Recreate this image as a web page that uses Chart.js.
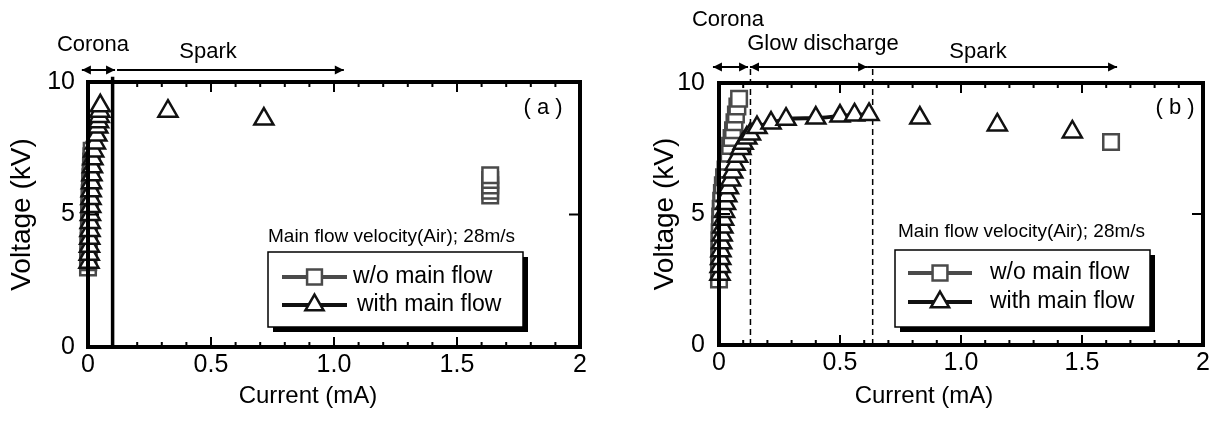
<!DOCTYPE html>
<html>
<head>
<meta charset="utf-8">
<script src="https://cdn.jsdelivr.net/npm/chart.js@4.4.0/dist/chart.umd.min.js"></script>
<style>
  html, body { margin: 0; padding: 0; background: #fff; }
  #wrap { position: relative; width: 1219px; height: 428px; overflow: hidden; }
  canvas { position: absolute; top: 0; }
</style>
</head>
<body>
<div id="wrap">
  <canvas id="chartA" width="609" height="428" style="left:0"></canvas>
  <canvas id="chartB" width="610" height="428" style="left:609px"></canvas>
</div>
<script>
// ---- data ----
const xTickValues = [0, 0.5, 1, 1.5, 2];
const xTickLabels = ['0', '0.5', '1.0', '1.5', '2'];
const yTickValues = [0, 5, 10];
const yTickLabels = ['0', '5', '10'];
const seriesNames = ['w/o main flow', 'with main flow'];

// (a) w/o main flow
const aWoCur  = [0.000, 0.001, 0.001, 0.002, 0.002, 0.003, 0.003, 0.004, 0.004, 0.005, 0.005, 0.006, 0.006, 0.007, 0.007, 0.008, 0.009, 0.010, 0.011, 0.012, 0.013, 0.014, 0.015];
const aWoVolt = [3.0, 3.2, 3.4, 3.6, 3.8, 4.0, 4.2, 4.4, 4.6, 4.8, 5.0, 5.2, 5.4, 5.6, 5.8, 6.0, 6.2, 6.4, 6.6, 6.8, 7.0, 7.2, 7.4];
const aWoSparkCur  = [1.635, 1.635, 1.635, 1.635, 1.635];
const aWoSparkVolt = [5.72, 5.9, 6.1, 6.3, 6.48];
// (a) with main flow
const aWCur  = [0.004, 0.005, 0.006, 0.007, 0.008, 0.009, 0.010, 0.011, 0.012, 0.013, 0.014, 0.016, 0.018, 0.020, 0.023, 0.030, 0.036, 0.040, 0.043, 0.046, 0.048, 0.050];
const aWVolt = [3.2, 3.5, 3.8, 4.1, 4.4, 4.7, 5.0, 5.3, 5.6, 5.9, 6.2, 6.5, 6.8, 7.1, 7.4, 7.7, 8.0, 8.3, 8.5, 8.7, 8.9, 9.1];
const aWSparkCur  = [0.325, 0.715];
const aWSparkVolt = [8.9, 8.6];
const aBoundary = [0.1];
const aRegions = ['Corona', 'Spark'];

// (b) w/o main flow
const bWoCur  = [0.000, 0.000, 0.001, 0.001, 0.002, 0.002, 0.003, 0.004, 0.005, 0.007, 0.009, 0.012, 0.016, 0.021, 0.027, 0.034, 0.040, 0.046, 0.052, 0.058, 0.064, 0.070, 0.076, 0.083];
const bWoVolt = [2.5, 2.8, 3.1, 3.4, 3.7, 4.0, 4.3, 4.6, 4.9, 5.2, 5.5, 5.8, 6.1, 6.4, 6.7, 7.0, 7.3, 7.6, 7.9, 8.2, 8.5, 8.8, 9.1, 9.4];
const bWoSparkCur  = [1.62];
const bWoSparkVolt = [7.75];
// (b) with main flow
const bWCur  = [0.004, 0.005, 0.007, 0.008, 0.011, 0.013, 0.016, 0.019, 0.023, 0.027, 0.032, 0.039, 0.048, 0.057, 0.066, 0.077, 0.090, 0.100, 0.115, 0.130, 0.157, 0.215, 0.277, 0.40, 0.50, 0.56, 0.62];
const bWVolt = [2.7, 3.0, 3.3, 3.6, 3.9, 4.2, 4.5, 4.8, 5.1, 5.4, 5.7, 6.0, 6.3, 6.6, 6.9, 7.2, 7.5, 7.7, 7.9, 8.05, 8.3, 8.47, 8.62, 8.66, 8.74, 8.78, 8.8];
const bWSparkCur  = [0.83, 1.15, 1.46];
const bWSparkVolt = [8.66, 8.40, 8.13];
const bBoundary = [0.13, 0.635];
const bRegions = ['Corona', 'Glow discharge', 'Spark'];

const legendTitle = 'Main flow velocity(Air); 28m/s';

// ---- helpers ----
const FONT = "'Liberation Sans', Arial, sans-serif";
const GREY = '#4a4a4a';
Chart.defaults.font.family = FONT;
Chart.defaults.color = '#000';

function pts(xs, ys) {
  return xs.map((x, i) => ({ x: x, y: ys[i] }));
}

function squares(data, line) {
  return {
    data: data, showLine: line, borderColor: GREY, borderWidth: 4,
    pointStyle: 'rect', pointRadius: 11, pointBorderWidth: 2.5,
    pointBorderColor: GREY, pointBackgroundColor: '#fff', clip: false, order: 2
  };
}
function triangles(data, line) {
  return {
    data: data, showLine: line, borderColor: '#111', borderWidth: 4,
    cubicInterpolationMode: 'monotone',
    pointStyle: 'triangle', pointRadius: 11, pointBorderWidth: 2.5,
    pointBorderColor: '#111', pointBackgroundColor: '#fff', clip: false, order: 1
  };
}
// vertical region boundary, from 0 up to just above the frame
function boundary(x, top, dashed) {
  return {
    data: [{ x: x, y: 0 }, { x: x, y: top }], showLine: true,
    borderColor: '#000', borderWidth: dashed ? 1.5 : 3.5,
    borderDash: dashed ? [6, 4] : [], pointRadius: 0, clip: false, order: 3
  };
}

function text(ctx, str, x, y, size, align, rot) {
  ctx.save();
  ctx.font = size + 'px ' + FONT;
  ctx.fillStyle = '#000';
  ctx.textAlign = align || 'center';
  ctx.textBaseline = 'middle';
  ctx.translate(x, y);
  if (rot) ctx.rotate(rot);
  ctx.fillText(str, 0, 0);
  ctx.restore();
}

function head(ctx, x, y, dir) {
  ctx.beginPath();
  ctx.moveTo(x, y);
  ctx.lineTo(x - dir * 9, y - 4.5);
  ctx.lineTo(x - dir * 9, y + 4.5);
  ctx.closePath();
  ctx.fill();
}

function arrow(ctx, x1, x2, y, startHead) {
  ctx.beginPath();
  ctx.moveTo(x1, y);
  ctx.lineTo(x2, y);
  ctx.stroke();
  head(ctx, x2, y, 1);
  if (startHead) head(ctx, x1, y, -1);
}

function decor(p) {
  return {
    id: 'decor',
    afterDatasetsDraw(chart) {
      const { ctx, chartArea: ca, scales: { x, y } } = chart;
      ctx.save();
      ctx.strokeStyle = '#000';
      ctx.fillStyle = '#000';
      // inward ticks
      ctx.lineWidth = 2;
      ctx.beginPath();
      for (let k = 1; k < 20; k++) {
        const px = x.getPixelForValue(k / 10);
        const len = k % 5 === 0 ? 10 : 5;
        ctx.moveTo(px, ca.top); ctx.lineTo(px, ca.top + len);
        ctx.moveTo(px, ca.bottom); ctx.lineTo(px, ca.bottom - len);
      }
      const py = y.getPixelForValue(5);
      ctx.moveTo(ca.left, py); ctx.lineTo(ca.left + 11, py);
      ctx.moveTo(ca.right, py); ctx.lineTo(ca.right - 11, py);
      ctx.stroke();
      // frame
      ctx.lineWidth = 4;
      ctx.strokeRect(ca.left, ca.top, ca.right - ca.left, ca.bottom - ca.top);

      // region arrows and labels
      ctx.lineWidth = 2;
      p.regions.forEach(r => {
        arrow(ctx, x.getPixelForValue(r.from), x.getPixelForValue(r.to), p.arrowY, r.both);
        text(ctx, r.label, r.tx, r.ty, 22);
      });
      text(ctx, p.panel, p.panelX, p.panelY, 22);

      // axis titles
      text(ctx, 'Voltage (kV)', p.yTitleX, (ca.top + ca.bottom) / 2, 28, 'center', -Math.PI / 2);
      text(ctx, 'Current (mA)', p.xTitleX, p.xTitleY, 24);

      // legend
      const L = p.legend;
      text(ctx, legendTitle, L.titleX, L.titleY, 19, 'left');
      ctx.fillStyle = '#000';
      ctx.fillRect(L.x + 5, L.y + 5, L.w, L.h);
      ctx.fillStyle = '#fff';
      ctx.fillRect(L.x, L.y, L.w, L.h);
      ctx.lineWidth = 1.5;
      ctx.strokeStyle = '#000';
      ctx.strokeRect(L.x, L.y, L.w, L.h);
      const rows = [
        { name: seriesNames[0], color: GREY, style: 'rect', r: 10.5, y: L.row1, tx: L.text1 },
        { name: seriesNames[1], color: '#111', style: 'triangle', r: 10.5, y: L.row2, tx: L.text2 }
      ];
      rows.forEach(row => {
        ctx.strokeStyle = row.color;
        ctx.lineWidth = 4;
        ctx.beginPath();
        ctx.moveTo(L.lineX1, row.y); ctx.lineTo(L.lineX2, row.y);
        ctx.stroke();
        ctx.fillStyle = '#fff';
        ctx.lineWidth = 2.5;
        Chart.helpers.drawPoint(ctx, { pointStyle: row.style, radius: row.r, rotation: 0, borderWidth: 2.5 },
          (L.lineX1 + L.lineX2) / 2, row.y);
        text(ctx, row.name, row.tx, row.y, 23, 'left');
      });
      ctx.restore();
    }
  };
}

function makePanel(id, datasets, p) {
  return new Chart(document.getElementById(id), {
    type: 'scatter',
    data: { datasets: datasets },
    options: {
      responsive: false,
      animation: false,
      devicePixelRatio: 1,
      layout: { padding: p.padding },
      plugins: { legend: { display: false }, tooltip: { enabled: false } },
      scales: {
        x: {
          type: 'linear', min: 0, max: 2,
          afterBuildTicks: s => { s.ticks = xTickValues.map(v => ({ value: v })); },
          afterFit: s => { s.height = p.xAxisH; },
          grid: { display: false, drawTicks: false },
          border: { display: false },
          ticks: {
            padding: 3, maxRotation: 0, autoSkip: false,
            font: { size: 25 },
            callback: v => xTickLabels[xTickValues.indexOf(v)]
          }
        },
        y: {
          type: 'linear', min: 0, max: 10,
          afterBuildTicks: s => { s.ticks = yTickValues.map(v => ({ value: v })); },
          afterFit: s => { s.width = p.yAxisW; },
          grid: { display: false, drawTicks: false },
          border: { display: false },
          ticks: {
            padding: p.yPad,
            font: { size: 25 },
            callback: v => yTickLabels[yTickValues.indexOf(v)]
          }
        }
      }
    },
    plugins: [decor(p)]
  });
}

// ---- panel (a) ----
makePanel('chartA', [
  triangles(pts(aWCur, aWVolt), true),
  triangles(pts(aWSparkCur, aWSparkVolt), false),
  squares(pts(aWoCur, aWoVolt), true),
  squares(pts(aWoSparkCur, aWoSparkVolt), false),
  boundary(aBoundary[0], 10.2, false)
], {
  padding: { left: 0, right: 29, top: 82, bottom: 0 },
  xAxisH: 81, yAxisW: 88, yPad: 13,
  arrowY: 70,
  regions: [
    { label: aRegions[0], from: -0.025, to: 0.11, both: true, tx: 93, ty: 45 },
    { label: aRegions[1], from: 0.118, to: 1.04, both: false, tx: 208, ty: 52 }
  ],
  panel: '( a )', panelX: 543, panelY: 108,
  yTitleX: 22, xTitleX: 308, xTitleY: 396,
  legend: {
    titleX: 268, titleY: 237,
    x: 268, y: 252, w: 255, h: 75,
    lineX1: 282, lineX2: 347, row1: 277, row2: 305, text1: 353, text2: 357
  }
});

// ---- panel (b) ----
makePanel('chartB', [
  triangles(pts(bWCur, bWVolt), true),
  triangles(pts(bWSparkCur, bWSparkVolt), false),
  squares(pts(bWoCur, bWoVolt), true),
  squares(pts(bWoSparkCur, bWoSparkVolt), false),
  boundary(bBoundary[0], 10.6, true),
  boundary(bBoundary[1], 10.6, true)
], {
  padding: { left: 0, right: 16, top: 83, bottom: 0 },
  xAxisH: 83, yAxisW: 110, yPad: 14,
  arrowY: 67,
  regions: [
    { label: bRegions[0], from: -0.025, to: 0.12, both: true, tx: 119, ty: 20 },
    { label: bRegions[1], from: 0.128, to: 0.612, both: true, tx: 214, ty: 44 },
    { label: bRegions[2], from: 0.612, to: 1.645, both: false, tx: 369, ty: 52 }
  ],
  panel: '( b )', panelX: 566, panelY: 108,
  yTitleX: 56, xTitleX: 315, xTitleY: 396,
  legend: {
    titleX: 289, titleY: 232,
    x: 286, y: 250, w: 255, h: 77,
    lineX1: 299, lineX2: 363, row1: 273, row2: 302, text1: 381, text2: 381
  }
});
</script>
</body>
</html>
